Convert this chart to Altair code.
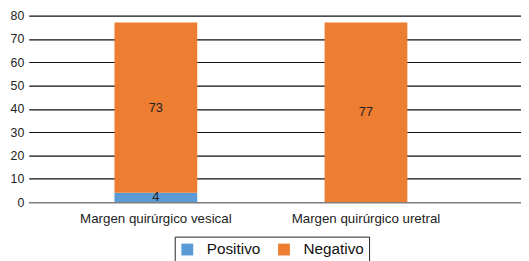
import altair as alt
import pandas as pd

categories = ["Margen quirúrgico vesical", "Margen quirúrgico uretral"]
series = ["Positivo", "Negativo"]
positivo = [4, 0]
negativo = [73, 77]
colors = ["#5B9BD5", "#ED7D31"]
y_ticks = [0, 10, 20, 30, 40, 50, 60, 70, 80]

rows = []
for i, c in enumerate(categories):
    rows.append({"cat": c, "serie": "Positivo", "ord": 0, "value": positivo[i]})
    rows.append({"cat": c, "serie": "Negativo", "ord": 1, "value": negativo[i]})
df = pd.DataFrame(rows)

FONT = "Liberation Sans"

base = alt.Chart(df).transform_filter(alt.datum.value > 0).transform_stack(
    stack="value", groupby=["cat"], as_=["v0", "v1"], sort=[alt.SortField("ord")]
).transform_calculate(mid="(datum.v0 + datum.v1) / 2")

xscale = alt.Scale(paddingInner=0.606, paddingOuter=0.4745, align=0.43)
yscale = alt.Scale(domain=[0, 80], nice=False, zero=True)
xaxis = alt.Axis(labelAngle=0, ticks=False, domain=True, domainColor="#888888",
                 labelFont=FONT, labelFontSize=13.5, labelColor="#222222",
                 labelPadding=10, grid=False, title=None)
yaxis = alt.Axis(values=y_ticks, ticks=False, domain=False, grid=True,
                 gridColor="#111111", gridWidth=1.2, gridOpacity=1,
                 labelOverlap=False, title=None,
                 labelFont=FONT, labelFontSize=12.5, labelColor="#222222",
                 labelPadding=5)

bars = base.mark_bar().encode(
    x=alt.X("cat:N", sort=categories, title=None, scale=xscale, axis=xaxis),
    y=alt.Y("v0:Q", title=None, scale=yscale, axis=yaxis),
    y2="v1:Q",
    color=alt.Color("serie:N", scale=alt.Scale(domain=series, range=colors),
                    legend=alt.Legend(title=None, orient="none", legendX=148, legendY=224,
                                      direction="horizontal", symbolType="square",
                                      symbolSize=144, symbolStrokeWidth=0,
                                      labelFont=FONT, labelFontSize=15.5, labelColor="#111111",
                                      labelOffset=12, columnPadding=16, padding=5,
                                      strokeColor="#222222", fillColor="white")),
)

labels = base.mark_text(font=FONT, fontSize=13, color="#222222", baseline="middle").encode(
    x=alt.X("cat:N", sort=categories, title=None, scale=xscale, axis=xaxis),
    y=alt.Y("mid:Q", title=None, scale=yscale, axis=yaxis),
    text=alt.Text("value:Q"),
)

chart = alt.layer(bars, labels).properties(
    width=499, height=189,
    autosize=alt.AutoSizeParams(type="none"),
    padding={"left": 21, "top": 6, "right": 0, "bottom": 58},
).configure_view(stroke=None)

chart.save("out.html", embed_options={"renderer": "svg", "actions": False})
